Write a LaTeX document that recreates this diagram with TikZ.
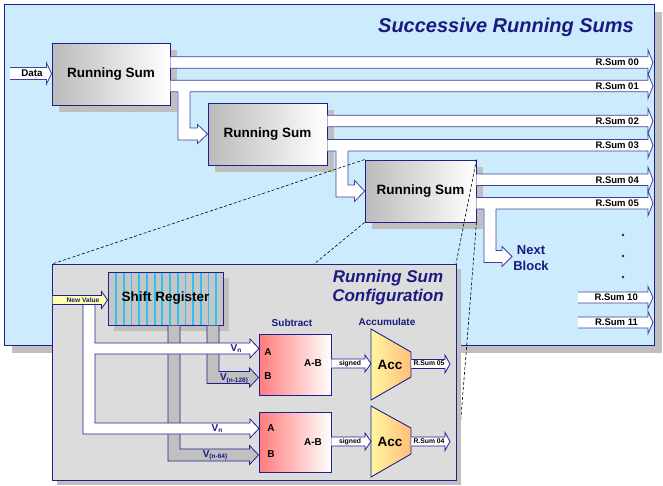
\documentclass[tikz,border=0pt]{standalone}
\usepackage{fontspec}
\setmainfont{Liberation Sans}
\usetikzlibrary{calc,shadows}
\definecolor{navyc}{HTML}{1F1F8F}
\definecolor{arrowc}{HTML}{4040A0}
\definecolor{titlec}{HTML}{1A1A80}
\definecolor{lightbl}{HTML}{CCEBFD}
\definecolor{panelgray}{HTML}{DCDCDC}
\definecolor{shgray}{HTML}{BFBFBF}
\definecolor{rsleft}{HTML}{BBBBBB}
\definecolor{srgray}{HTML}{C6C6C6}
\definecolor{stripec}{HTML}{2BC3F3}
\definecolor{busgray}{HTML}{C0C0C0}
\definecolor{subleft}{HTML}{FF7C7C}
\definecolor{accl}{HTML}{FFF6A0}
\definecolor{accr}{HTML}{FFBE7A}
\definecolor{nvyellow}{HTML}{FFFFB0}

\newcommand\fatarrow[6]{%
  \path[#1] let \p1=#2, \p2=#3 in
    (\x1,\y1+#4) -- (\x2-#6,\y1+#4) -- (\x2-#6,\y1+#5) -- (\x2,\y1)
    -- (\x2-#6,\y1-#5) -- (\x2-#6,\y1-#4) -- (\x1,\y1-#4);}

\newcommand\bentarrow[7]{%
  \path[#1,draw=none] let \p1=#2, \p2=#3 in
    (\x1+2*#4,\y1+#7) -- (\x1+2*#4,\y2+#4) -- (\x2-#6,\y2+#4) -- (\x2-#6,\y2+#5) -- (\x2,\y2)
    -- (\x2-#6,\y2-#5) -- (\x2-#6,\y2-#4) -- (\x1,\y2-#4) -- (\x1,\y1+#7) -- cycle;
  \path[#1,fill=none] let \p1=#2, \p2=#3 in
    (\x1+2*#4,\y1) -- (\x1+2*#4,\y2+#4) -- (\x2-#6,\y2+#4) -- (\x2-#6,\y2+#5) -- (\x2,\y2)
    -- (\x2-#6,\y2-#5) -- (\x2-#6,\y2-#4) -- (\x1,\y2-#4) -- (\x1,\y1);}

\begin{document}
\begin{tikzpicture}[x=1pt,y=-1pt,
  rsblock/.style={draw=navyc, line width=0.9pt, left color=rsleft, right color=white, minimum height=62pt, inner sep=0pt, font=\fontsize{13.5}{16}\selectfont\bfseries, drop shadow={shadow xshift=6.5pt, shadow yshift=-6.5pt, fill=shgray, opacity=1}},
  fatw/.style={fill=white, draw=arrowc, line width=0.8pt},
  fatcw/.style={fill=white, draw=navyc, line width=0.8pt},
  fatg/.style={fill=busgray, draw=navyc, line width=0.8pt},
  fatyel/.style={fill=nvyellow, draw=navyc, line width=0.8pt},
  rslbl/.style={font=\fontsize{9.5}{11}\selectfont\bfseries, inner sep=0pt, anchor=east},
  smlbl/.style={font=\fontsize{6.8}{8}\selectfont\bfseries, inner sep=0pt},
  navylbl/.style={font=\fontsize{10}{12}\selectfont\bfseries, text=titlec, inner sep=0pt},
  inlbl/.style={font=\fontsize{10}{12}\selectfont\bfseries, inner sep=0pt},
  dashln/.style={draw=black, line width=0.6pt, dash pattern=on 3pt off 2pt},
  subblock/.style={draw=navyc, line width=0.9pt, left color=subleft, right color=white, minimum width=72pt, inner sep=0pt},
  accshape/.style={draw=navyc, line width=0.9pt, left color=accl, right color=accr},
  vlbl/.style={font=\fontsize{10}{12}\selectfont\bfseries, text=titlec, inner sep=0pt},
  acclbl/.style={font=\fontsize{13.5}{16}\selectfont\bfseries, inner sep=0pt}
]
\useasboundingbox (0,0) rectangle (663,485);
\fill[white] (0,0) rectangle (663,485);
% outer panel
\fill[shgray] (12,12) rectangle (662,353);
\draw[draw=navyc, line width=0.9pt, fill=lightbl] (4,4) rectangle (654,345);
\node[font=\fontsize{20}{24}\selectfont\bfseries\itshape, text=titlec, anchor=east, inner sep=0pt] (title) at (634,27) {Successive Running Sums};

% running sum blocks
\node[rsblock, minimum width=118pt] (rs1) at (111,74) {Running Sum};
\node[rsblock, minimum width=119pt] (rs2) at (267.5,134) {Running Sum};
\node[rsblock, minimum width=111pt] (rs3) at (420.5,191) {Running Sum};

% data input
\coordinate (datain) at (10,73.5);
\fatarrow{fatw}{(datain)}{(rs1.west)}{6pt}{10.5pt}{5pt}
\node[font=\fontsize{9.8}{11}\selectfont\bfseries, inner sep=0pt] (datalbl) at (32,73.5) {Data};

% outputs
\coordinate (o00) at (653,62.5);
\coordinate (o01) at (653,86);
\coordinate (o02) at (653,121);
\coordinate (o03) at (653,145.25);
\coordinate (o04) at (653,179.75);
\coordinate (o05) at (653,203.25);
\coordinate (st00) at (rs1.east |- o00);
\coordinate (st01) at (rs1.east |- o01);
\coordinate (st02) at (rs2.east |- o02);
\coordinate (st03) at (rs2.east |- o03);
\coordinate (st04) at (rs3.east |- o04);
\coordinate (st05) at (rs3.east |- o05);
\foreach \k/\yy in {00/62.5, 01/86, 02/121, 03/145.25, 04/179.75, 05/203.25} {
  \fatarrow{fatw}{(st\k)}{(o\k)}{5.75pt}{12.5pt}{5pt}
  \node[rslbl] (l\k) at (639,\yy) {R.Sum \k};
}

% bent arrows between blocks
\coordinate (b1) at (178,91.75);
\bentarrow{fatw}{(b1)}{(rs2.west)}{6pt}{9.5pt}{10pt}{3pt}
\coordinate (b2) at (336,151);
\bentarrow{fatw}{(b2)}{(rs3.west)}{6pt}{10.5pt}{10pt}{3pt}
\coordinate (b3) at (484,209);
\coordinate (nextb) at (512,256.5);
\bentarrow{fatw}{(b3)}{(nextb)}{6pt}{10pt}{10pt}{3pt}
\node[font=\fontsize{13}{16}\selectfont\bfseries, text=titlec, align=center, inner sep=0pt] (nextlbl) at (531,258) {Next\\Block};

% dots
\foreach \yy in {235,256,277} \fill[titlec] (623,\yy) circle (1.4);

% R.Sum 10 / 11
\coordinate (s10) at (578,297.5);
\coordinate (o10) at (653,297.5);
\coordinate (s11) at (578,322.5);
\coordinate (o11) at (653,322.5);
\fatarrow{fatw}{(s10)}{(o10)}{5.5pt}{11pt}{5pt}
\fatarrow{fatw}{(s11)}{(o11)}{5.5pt}{11pt}{5pt}
\node[rslbl] (l10) at (638,297.5) {R.Sum 10};
\node[rslbl] (l11) at (638,322.5) {R.Sum 11};

% projection lines
\coordinate (cTL) at (52,264);
\coordinate (cTR) at (456,264);
\coordinate (cBL) at (52,480);
\coordinate (cBR) at (456,480);
\draw[dashln] (rs3.north west) -- (cTL);
\draw[dashln] (rs3.south west) -- (cBL);
\draw[dashln] (rs3.north east) -- (cTR);
\draw[dashln] (rs3.south east) -- (cBR);

% configuration panel
\fill[shgray] ($(cTL)+(5,5)$) rectangle ($(cBR)+(5,5)$);
\draw[draw=navyc, line width=0.9pt, fill=panelgray] (cTL) rectangle (cBR);
\node[font=\fontsize{17}{19.5}\selectfont\bfseries\itshape, text=titlec, align=center, inner sep=0pt] (cfgtitle) at (388,287.5) {Running Sum\\Configuration};

% shift register
\node[draw=navyc, line width=0.9pt, fill=srgray, minimum width=115pt, minimum height=53pt, inner sep=0pt,
  font=\fontsize{13.5}{16}\selectfont\bfseries,
  drop shadow={shadow xshift=6pt, shadow yshift=-6pt, fill=shgray, opacity=1},
  path picture={\foreach \i in {0,...,13}{\fill[stripec] ($(path picture bounding box.north west)+(7.2+7.7*\i,0)$) rectangle ++(1.8,53);}}]
  (sr) at (165.5,298.5) {Shift Register};

% subtract blocks
\node[subblock, minimum height=61pt] (sub1) at (295,364.5) {};
\node[subblock, minimum height=60pt] (sub2) at (295,442) {};
\node[inlbl] (sa1) at (268,352) {A};
\node[inlbl] (sb1) at (268,376) {B};
\node[inlbl] (sd1) at (313,363) {A-B};
\node[inlbl] (sa2) at (271,428) {A};
\node[inlbl] (sb2) at (271,454) {B};
\node[inlbl] (sd2) at (313,442) {A-B};
\node[navylbl] (subt) at (292,323) {Subtract};
\node[navylbl] (acct) at (387,322) {Accumulate};

% gray delayed buses
\coordinate (bar1) at (168,325.5);
\coordinate (bar2) at (207,325.5);
\coordinate (s2b) at ($(sub2.west)+(0,13)$);
\coordinate (s1b) at ($(sub1.west)+(0,13)$);
\bentarrow{fatg}{(bar1)}{(s2b)}{6pt}{9.5pt}{9pt}{0pt}
\bentarrow{fatg}{(bar2)}{(s1b)}{6pt}{9.5pt}{9pt}{0pt}

% white current-value bus
\path[fatcw] (95,304.5) -- (95,343) -- (250,343) -- (250,339) -- (259,348.5) -- (250,358) -- (250,354)
  -- (95,354) -- (95,423) -- (250,423) -- (250,419) -- (259,428.5) -- (250,438) -- (250,434)
  -- (83,434) -- (83,304.5);

% new value input
\coordinate (nvin) at (52.5,300);
\fatarrow{fatyel}{(nvin)}{(sr.west)}{4.5pt}{8.5pt}{6pt}
\node[font=\fontsize{6.6}{8}\selectfont\bfseries, text=titlec, inner sep=0pt] (nvlbl) at (83,300) {New Value};

% bus labels
\node[vlbl] (vn1) at (236,348.5) {V\raisebox{-1.5pt}{\fontsize{6.5}{7}\selectfont n}};
\node[vlbl] (vd1) at (234,378.5) {V\raisebox{-1.5pt}{\fontsize{6.5}{7}\selectfont (n-128)}};
\node[vlbl] (vn2) at (217,428.5) {V\raisebox{-1.5pt}{\fontsize{6.5}{7}\selectfont n}};
\node[vlbl] (vd2) at (215,455) {V\raisebox{-1.5pt}{\fontsize{6.5}{7}\selectfont (n-64)}};

% accumulators
\path[accshape] (371,329) -- (411,352) -- (411,377) -- (371,400) -- cycle;
\node[acclbl] (acc1) at (390,364.5) {Acc};
\path[accshape] (371,406) -- (411,428) -- (411,454) -- (371,477) -- cycle;
\node[acclbl] (acc2) at (390,441.5) {Acc};

% signed arrows
\coordinate (acc1in) at (371,363.5);
\coordinate (acc2in) at (371,441.5);
\coordinate (sub1out) at (sub1.east |- acc1in);
\coordinate (sub2out) at (sub2.east |- acc2in);
\fatarrow{fatcw}{(sub1out)}{(acc1in)}{4.5pt}{8.5pt}{6pt}
\fatarrow{fatcw}{(sub2out)}{(acc2in)}{4.5pt}{8.5pt}{6pt}
\node[smlbl] (sg1) at (350,363.5) {signed};
\node[smlbl] (sg2) at (350,441.5) {signed};

% accumulator outputs
\coordinate (a1out) at (411.4,364);
\coordinate (r05) at (450,364);
\coordinate (a2out) at (411.4,441.5);
\coordinate (r04) at (450,441.5);
\fatarrow{fatcw}{(a1out)}{(r05)}{4.5pt}{9pt}{5pt}
\fatarrow{fatcw}{(a2out)}{(r04)}{4.5pt}{9pt}{5pt}
\node[smlbl] (rl05) at (429,363.5) {R.Sum 05};
\node[smlbl] (rl04) at (429,441) {R.Sum 04};
\end{tikzpicture}
\end{document}
